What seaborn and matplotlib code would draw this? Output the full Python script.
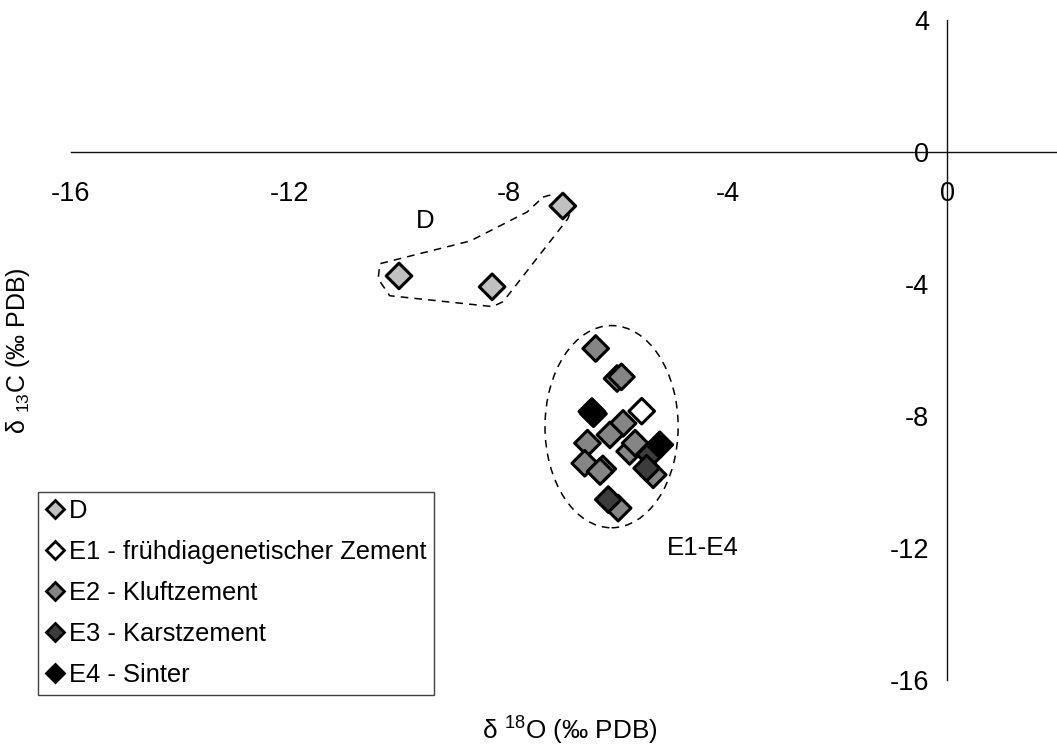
import numpy as np
import pandas as pd
import matplotlib
matplotlib.use("Agg")
import matplotlib.pyplot as plt
import seaborn as sns
from matplotlib.lines import Line2D
from matplotlib.patches import Ellipse

# Stable isotope data (δ18O vs δ13C, ‰ PDB)
series_names = ["D",
                "E1 - frühdiagenetischer Zement",
                "E2 - Kluftzement",
                "E3 - Karstzement",
                "E4 - Sinter"]

d_o18 = [-7.02, -10.01, -8.31]
d_c13 = [-1.63, -3.75, -4.08]

e1_o18 = [-5.58]
e1_c13 = [-7.85]

e2_o18 = [-6.42, -6.03, -5.95, -5.92, -6.16, -6.57, -5.80, -5.70,
          -5.37, -6.62, -6.29, -6.34, -6.01]
e2_c13 = [-5.95, -6.86, -6.81, -8.22, -8.57, -8.82, -9.07, -8.82,
          -9.78, -9.43, -9.60, -9.68, -10.79]

e3_o18 = [-6.46, -5.43, -5.49, -6.19]
e3_c13 = [-7.93, -9.17, -9.58, -10.53]

e4_o18 = [-6.49, -5.25]
e4_c13 = [-7.86, -8.87]

series_colors = ["#c0c0c0", "#ffffff", "#858585", "#3c3c3c", "#000000"]

x_ticks = [-16, -12, -8, -4, 0]
y_ticks = [4, 0, -4, -8, -12, -16]

frames = []
for name, xs, ys in zip(series_names,
                        [d_o18, e1_o18, e2_o18, e3_o18, e4_o18],
                        [d_c13, e1_c13, e2_c13, e3_c13, e4_c13]):
    frames.append(pd.DataFrame({"o18": xs, "c13": ys, "series": name}))
df = pd.concat(frames, ignore_index=True)
palette = dict(zip(series_names, series_colors))

sns.set_theme(style="white")
plt.rcParams["font.family"] = ["Liberation Sans", "DejaVu Sans"]
plt.rcParams["mathtext.fontset"] = "custom"
plt.rcParams["mathtext.rm"] = "Liberation Sans"
plt.rcParams["mathtext.default"] = "regular"
plt.rcParams["text.color"] = "black"
plt.rcParams["xtick.labelcolor"] = "black"
plt.rcParams["ytick.labelcolor"] = "black"

fig = plt.figure(figsize=(10.57, 7.53), dpi=100)
ax = fig.add_axes([0.067, 0.097, 0.933, 0.876])

sns.scatterplot(data=df, x="o18", y="c13", hue="series", palette=palette,
                marker="D", s=170, edgecolor="black", linewidth=2.2,
                legend=False, ax=ax, zorder=3)

ax.set_xlim(-16, 2)
ax.set_ylim(-16, 4)

# axes crossing at the origin
for side in ["top", "right"]:
    ax.spines[side].set_visible(False)
ax.spines["left"].set_position(("data", 0))
ax.spines["bottom"].set_position(("data", 0))
for side in ["left", "bottom"]:
    ax.spines[side].set_color("#111111")
    ax.spines[side].set_linewidth(1.0)

ax.set_xticks(x_ticks)
ax.set_yticks(y_ticks)
ax.set_xticklabels([str(v) for v in x_ticks])
ax.set_yticklabels([str(v) for v in y_ticks])
ax.tick_params(axis="x", direction="out", length=6.5, width=1.0,
               color="#111111", labelcolor="black", pad=14, labelsize=19.5)
ax.tick_params(axis="y", direction="out", length=5, width=1.0,
               color="#111111", labelcolor="black", pad=8, labelsize=19.5)
ax.set_xlabel("")
ax.set_ylabel("")
ax.grid(False)

# group outlines
dash = (0, (5, 4))
ell = Ellipse((-6.13, -8.32), width=2.43, height=6.13, fill=False,
              edgecolor="black", linewidth=1.1, linestyle=dash, zorder=2)
ax.add_patch(ell)

outline_x = [-7.38, -7.26, -6.84, -6.93, -8.11, -8.30, -10.18, -10.39,
             -10.36, -9.86, -8.71, -7.67, -7.38]
outline_y = [-1.36, -1.30, -1.63, -2.02, -4.53, -4.68, -4.35, -3.84,
             -3.38, -3.17, -2.69, -1.81, -1.36]
ax.plot(outline_x, outline_y, color="black", linewidth=1.1,
        linestyle=dash, zorder=2)

ax.text(-9.54, -2.08, "D", fontsize=18.6, ha="center", va="center",
        color="black")
ax.text(-5.12, -12.0, "E1-E4", fontsize=18.6, ha="left", va="center",
        color="black")

# axis titles
fig.text(0.539, 0.030, "δ $^{18}$O (‰ PDB)", fontsize=18.8,
         ha="center", va="center", color="black")
fig.text(0.017, 0.535, "δ $_{13}$C (‰ PDB)", fontsize=18,
         ha="center", va="center", rotation=90, color="black")

# legend
handles = [Line2D([0], [0], marker="D", linestyle="none", markersize=9.5,
                  markerfacecolor=c, markeredgecolor="black",
                  markeredgewidth=2) for c in series_colors]
leg = fig.legend(handles, series_names, loc="upper left",
                 bbox_to_anchor=(0.036, 0.347), fontsize=18.4,
                 frameon=True, fancybox=False, borderpad=0.3,
                 labelspacing=0.66, handlelength=0.7, handletextpad=0.2,
                 borderaxespad=0, labelcolor="black")
leg.get_frame().set_edgecolor("#111111")
leg.get_frame().set_linewidth(1.0)

fig.savefig("out.png", dpi=100)
